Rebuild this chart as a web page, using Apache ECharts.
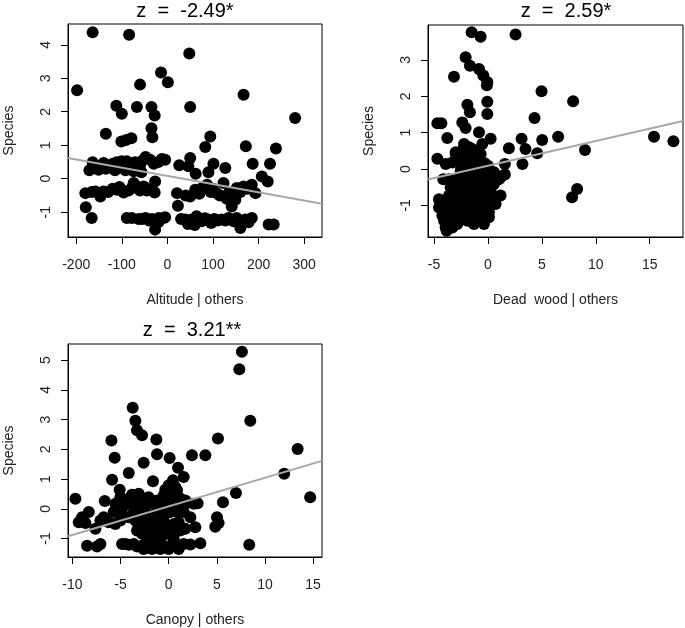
<!DOCTYPE html>
<html><head><meta charset="utf-8">
<script src="https://cdn.jsdelivr.net/npm/echarts@6/dist/echarts.min.js"></script>
<style>html,body{margin:0;padding:0;background:#fff}#c{width:685px;height:628px}</style>
</head><body><div id="c"></div>
<script>
// ---- Panel 1: Altitude | others ----
const altX = [-164,-84,48,-198,-14,1,-60,167,50,-112,-100,-67,-35,-28,280,-135,-35,-33,-101,-90,-79,94,83,172,238,
  -164,-147,-129,-111,-100,-89,-71,-57,-48,-38,-12,26,50,46,101,127,187,225,-171,-151,-92,-74,-57,62,90,207,220,-120,-80,-30,
  -180,-166,-158,-140,-147,-111,-96,-74,-78,-52,-27,-28,21,23,50,61,76,87,108,123,134,141,149,152,167,185,193,-120,-60,70,95,160,
  -179,-166,
  -89,-78,-63,-48,-34,-27,-19,-8,39,53,64,75,89,96,119,134,145,160,171,185,222,233,-20,45,60,110,
  -140,-60,-20,-115,-135,-5,
  -55,-40,-5,30,82,103,127,152,178,
  -130,-105,-85,-65,-45,-35,40,100,115,175,130,145];
const altY = [4.37,4.30,3.74,2.64,3.17,2.88,2.81,2.51,2.14,2.18,1.94,2.14,2.14,1.89,1.81,1.34,1.51,1.24,1.11,1.16,1.21,1.26,0.95,0.97,0.90,
  0.49,0.37,0.37,0.49,0.52,0.52,0.49,0.52,0.65,0.57,0.59,0.40,0.62,0.37,0.45,0.32,0.45,0.45,0.25,0.27,0.25,0.22,0.19,0.15,0.19,0.07,-0.08,0.45,0.45,0.45,
  -0.43,-0.40,-0.38,-0.38,-0.53,-0.33,-0.41,-0.13,-0.28,-0.23,-0.08,-0.41,-0.43,-0.81,-0.53,-0.33,-0.28,-0.18,-0.43,-0.13,-0.43,-0.83,-0.63,-0.28,-0.23,-0.18,-0.43,-0.30,-0.35,-0.45,-0.40,-0.40,
  -0.85,-1.17,
  -1.17,-1.17,-1.20,-1.17,-1.20,-1.52,-1.17,-1.17,-1.22,-1.22,-1.12,-1.27,-1.22,-1.32,-1.22,-1.17,-1.27,-1.47,-1.22,-1.17,-1.37,-1.37,-1.30,-1.35,-1.38,-1.25,
  0.47,0.40,0.50,0.25,0.30,0.57,
  -1.20,-1.25,-1.15,-1.20,-1.18,-1.20,-1.25,-1.17,-1.30,
  -0.40,-0.25,-0.35,-0.25,-0.35,-0.30,-0.50,-0.30,-0.50,-0.30,-0.60,-0.45];
const altFitX = [-218, 339];
const altFitY = [0.62, -0.75];
const altXTicks = [-200,-100,0,100,200,300];
const altYTicks = [-1,0,1,2,3,4];

// ---- Panel 2: Dead wood | others ----
const dwX = [-1.51,-0.68,2.56,-2.07,-1.67,-0.83,-0.43,-0.06,-0.1,-3.15,4.97,7.9,-0.06,-0.06,-1.91,-1.67,4.32,-4.69,-4.32,-2.38,-2.07,-0.83,-3.77,0.25,-0.52,3.12,5.03,6.51,15.4,17.2,9.0,1.94,3.48,4.57,3.2,-2.22,-2.99,-1.45,-4.69,-3.92,-4.14,0,1.57,1.57,1.17,7.8,8.27,-4.54,-4.54,-3.83,-0.13,-0.38,-0.7,-2.77,
  -3.46,-3.15,-2.53,-2.22,-1.91,-1.30,-0.99,-0.68,-0.37,-2.53,-2.22,-1.76,-1.45,-1.14,-0.83,-0.52,-0.22,-0.06,0.25,0.56,0.86,-2.84,-3.15,-3.46,-3.77,-2.69,-1.91,-1.30,-0.68,-0.37,-0.52,-0.83,-1.60,-1.91,-0.22,0.25,0.56,-2.38,-1.76,-1.45,-2.69,-2.07,-1.30,-2.84,-4.07,-4.23,1.17,-0.29,
  -2.99,-2.22,-1.45,-0.68,
  -3.30,-2.69,-1.91,-1.14,-0.52,
  -3.61,-2.84,-2.07,-1.30,-0.52,0.25,1.02,
  -2.99,-2.07,-1.30,-0.22,
  -3.61,-2.99,-2.22,-1.30,-0.83,0.25,
  -3.77,-3.30,-2.53,-1.60,-0.83,0.25,0.71,
  -4.07,-3.61,-2.53,-1.91,-0.99,-0.52,0.09,
  -2.22,-1.60,0.09,
  -3.92,-3.30];
const dwY = [3.76,3.64,3.70,3.07,2.84,2.75,2.57,2.39,2.30,2.54,2.14,1.86,1.85,1.51,1.77,1.56,1.40,1.26,1.26,1.28,1.13,1.01,0.85,0.83,0.69,0.83,0.80,0.89,0.89,0.76,0.52,0.57,0.55,0.43,0.14,0.69,0.46,0.55,0.28,0.14,-0.28,0.09,0.14,-0.15,-0.73,-0.78,-0.55,-0.83,-1.06,-1.70,-1.03,-1.31,-1.35,-1.35,
  -0.50,-0.32,-0.05,0.14,0.32,0.23,0.05,-0.14,-0.32,-0.50,-0.69,-0.87,-1.06,-1.24,-1.42,-1.33,-1.06,-0.87,-0.60,-0.41,-0.23,-1.06,-1.24,-1.42,-1.33,-1.42,-1.42,-1.51,-1.42,-1.51,-0.69,-0.50,-0.23,-0.05,-0.05,-0.14,-0.09,0.50,0.60,0.05,-0.69,-1.06,-0.87,-1.51,-1.42,-1.28,-0.23,0.16,
  0.41,0.41,0.41,0.41,
  0.18,0.18,0.18,0.18,0.18,
  -0.28,-0.28,-0.28,-0.28,-0.28,-0.28,-0.28,
  -0.50,-0.50,-0.50,-0.50,
  -0.73,-0.73,-0.73,-0.73,-0.73,-0.73,
  -0.96,-0.96,-0.96,-0.96,-0.96,-0.96,-0.96,
  -1.19,-1.19,-1.19,-1.19,-1.19,-1.19,-1.19,
  -1.33,-1.33,-1.33,
  -1.61,-1.61];
const dwFitX = [-5.56, 18.09];
const dwFitY = [-0.29, 1.32];
const dwXTicks = [-5,0,5,10,15];
const dwYTicks = [-1,0,1,2,3];

// ---- Panel 3: Canopy | others ----
const canX = [7.61,7.34,8.48,-3.74,-3.46,-3.29,-2.77,-5.95,-1.28,5.12,-5.61,-2.6,-1.21,0.1,2.42,3.81,13.4,12.0,-4.15,-5.88,-1.63,0.97,1.56,0.45,0,-0.35,-5.09,6.99,14.7,5.64,-9.69,-6.64,3.01,
  -3.81,-3.11,-2.60,-1.90,-1.21,-0.52,0.17,0.69,1.21,1.73,-4.15,-4.50,-4.84,-3.46,-0.52,0.52,0.69,0.35,
  -9.34,-9.0,-8.30,-8.65,-7.61,-7.09,-6.23,-5.54,-5.02,-4.15,-3.46,-2.77,-2.08,-1.56,-0.87,-0.17,0.52,1.04,1.73,2.77,5.02,5.19,4.84,-2.42,-3.11,-1.73,-2.77,-1.56,-0.17,
  -8.48,-7.44,-7.09,-4.84,-4.15,-2.77,-2.08,-1.56,-0.87,-0.17,0.35,1.04,2.25,3.29,8.37,-2.25,-3.29,
  -0.17,0.35,0.87,
  -5.02,-3.63,-2.08,0,1.04,
  -5.54,-3.98,-2.94,-1.56,-0.17,0.87,1.73,2.60,
  -5.71,-5.02,-3.63,-1.21,-0.52,0.17,0.87,1.56,
  -6.75,-2.60,-0.52,2.25,
  -3.29,-2.08,-0.87,0.52,1.21,
  -2.25,-1.56,-0.87,0.52,
  -2.60,-1.73,-0.87,0,
  -4.50,-3.63,1.56];
const canY = [5.28,4.69,2.96,3.40,2.96,2.64,2.47,2.30,2.33,2.36,1.72,1.55,1.83,1.71,1.80,1.80,2.01,1.18,1.20,0.98,0.93,1.38,1.07,0.96,0.79,0.64,0.64,0.53,0.39,0.22,0.34,0.26,0.19,
  0.47,0.51,0.34,0.22,0.28,0.45,0.56,0.45,0.34,0.28,0.34,0.17,0,0.17,0.17,0.11,0.73,0.28,
  -0.45,-0.28,-0.11,-0.48,-0.67,-0.39,-0.45,-0.51,-0.39,-0.28,-0.39,-0.56,-0.51,-0.45,-0.39,-0.56,-0.51,-0.45,-0.67,-0.62,-0.28,-0.48,-0.60,-0.11,-0.22,-0.22,-0.84,-0.79,-0.84,
  -1.24,-1.27,-1.18,-1.18,-1.21,-1.24,-1.29,-1.27,-1.29,-1.27,-1.24,-1.35,-1.20,-1.16,-1.21,-1.07,-1.27,
  0.62,0.62,0.62,
  0.39,0.39,0.39,0.39,0.39,
  0.17,0.17,0.17,0.17,0.17,0.17,0.17,0.17,
  -0.11,-0.11,-0.11,-0.11,-0.11,-0.11,-0.11,-0.11,
  -0.28,-0.28,-0.28,-0.28,
  -0.73,-0.73,-0.73,-0.73,-0.73,
  -1.01,-1.01,-1.01,-1.01,
  -1.35,-1.35,-1.35,-1.35,
  -1.18,-1.18,-1.18];
const canFitX = [-10.46, 15.93];
const canFitY = [-0.92, 1.61];
const canXTicks = [-10,-5,0,5,10,15];
const canYTicks = [-1,0,1,2,3,4,5];

const titles = ['z  =  -2.49*', 'z  =  2.59*', 'z  =  3.21**'];
const xNames = ['Altitude | others', 'Dead  wood | others', 'Canopy | others'];
const yName = 'Species';

const FONT = 'Liberation Sans, Arial, sans-serif';
const pairs = (xs, ys) => xs.map((x, i) => [x, ys[i]]);

function xAx(idx, min, max, ticks, name) {
  return {
    type: 'value', gridIndex: idx, min: min, max: max,
    name: name, nameLocation: 'middle', nameGap: 56,
    nameTextStyle: { fontFamily: FONT, fontSize: 14, color: '#222' },
    splitLine: { show: false },
    axisLine: { show: true, onZero: false, lineStyle: { color: '#000', width: 1 } },
    axisTick: { show: true, inside: false, length: 7, lineStyle: { color: '#000' }, customValues: ticks },
    axisLabel: { customValues: ticks, margin: 21, fontFamily: FONT, fontSize: 14, color: '#222' }
  };
}
function yAx(idx, min, max, ticks) {
  return {
    type: 'value', gridIndex: idx, min: min, max: max,
    name: yName, nameLocation: 'middle', nameGap: 52, nameRotate: 90,
    nameTextStyle: { fontFamily: FONT, fontSize: 14, color: '#222' },
    splitLine: { show: false },
    axisLine: { show: true, onZero: false, lineStyle: { color: '#000', width: 1 } },
    axisTick: { show: true, inside: false, length: 7, lineStyle: { color: '#000' }, customValues: ticks },
    axisLabel: { customValues: ticks, rotate: 90, margin: 15, fontFamily: FONT, fontSize: 14, color: '#222' }
  };
}
function pts(idx, xs, ys) {
  return { type: 'scatter', xAxisIndex: idx, yAxisIndex: idx, data: pairs(xs, ys),
    symbol: 'circle', symbolSize: 12, itemStyle: { color: '#000', opacity: 1 }, silent: true, animation: false };
}
function fit(idx, xs, ys) {
  return { type: 'line', xAxisIndex: idx, yAxisIndex: idx, data: pairs(xs, ys), showSymbol: false,
    lineStyle: { color: '#a8a8a8', width: 2 }, silent: true, animation: false, z: 3 };
}
const gridStyle = { show: true, borderColor: '#000', borderWidth: 1, backgroundColor: 'transparent' };
const titleStyle = { fontFamily: FONT, fontSize: 20, fontWeight: 'normal', color: '#000' };

const chart = echarts.init(document.getElementById('c'), null, { renderer: 'canvas' });
chart.setOption({
  animation: false,
  backgroundColor: '#fff',
  title: [
    { text: titles[0], left: 185, top: 1, textAlign: 'center', padding: 0, textStyle: titleStyle },
    { text: titles[1], left: 566, top: 1, textAlign: 'center', padding: 0, textStyle: titleStyle },
    { text: titles[2], left: 192, top: 320, textAlign: 'center', padding: 0, textStyle: titleStyle }
  ],
  grid: [
    Object.assign({ left: 68, top: 24, width: 254, height: 213 }, gridStyle),
    Object.assign({ left: 428, top: 25, width: 255, height: 212 }, gridStyle),
    Object.assign({ left: 68, top: 344, width: 254, height: 213 }, gridStyle)
  ],
  xAxis: [
    xAx(0, -218, 339, altXTicks, xNames[0]),
    xAx(1, -5.56, 18.09, dwXTicks, xNames[1]),
    xAx(2, -10.46, 15.93, canXTicks, xNames[2])
  ],
  yAxis: [
    yAx(0, -1.74, 4.62, altYTicks),
    yAx(1, -1.87, 3.96, dwYTicks),
    yAx(2, -1.62, 5.54, canYTicks)
  ],
  series: [
    pts(0, altX, altY), fit(0, altFitX, altFitY),
    pts(1, dwX, dwY), fit(1, dwFitX, dwFitY),
    pts(2, canX, canY), fit(2, canFitX, canFitY)
  ]
});
</script></body></html>
